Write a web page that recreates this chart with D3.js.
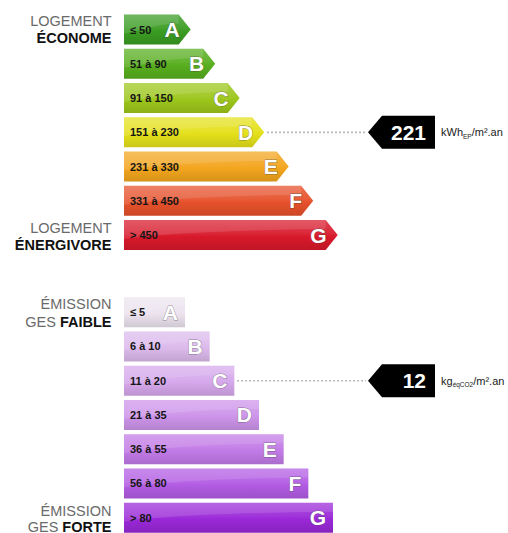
<!DOCTYPE html>
<html><head><meta charset="utf-8">
<script src="https://cdn.jsdelivr.net/npm/d3@7"></script>
<style>body{margin:0;background:#fff}svg{display:block}</style>
</head><body>
<script>
// ---- data ----
const classes = ["A","B","C","D","E","F","G"];
const energyRanges = ["≤ 50","51 à 90","91 à 150","151 à 230","231 à 330","331 à 450","> 450"];
const energyColors = ["#3a9c22","#58ae1f","#9cc61b","#e4e01a","#f3a51d","#e6512b","#d8192b"];
const gesRanges = ["≤ 5","6 à 10","11 à 20","21 à 35","36 à 55","56 à 80","> 80"];
const gesColors = ["#ece3ef","#dcbaec","#d6a8ec","#cd94ea","#c27ae7","#b25ce3","#9a28d8"];
const energyValue = 221, energyClass = "D", energyUnit = ["kWh","EP","/m².an"];
const gesValue = 12, gesClass = "C", gesUnit = ["kg","éqCO2","/m².an"];

const W = 508, H = 533;
const FONT = "'Liberation Sans', Arial, sans-serif";
const svg = d3.select("body").append("svg").attr("width", W).attr("height", H);
const defs = svg.append("defs");

function gradient(id, c) {
  const col = d3.color(c);
  const g = defs.append("linearGradient").attr("id", id).attr("x1", 0).attr("y1", 0).attr("x2", 0).attr("y2", 1);
  g.append("stop").attr("offset", "0%").attr("stop-color", d3.interpolateRgb(c, "#fff")(0.18));
  g.append("stop").attr("offset", "45%").attr("stop-color", d3.interpolateRgb(c, "#fff")(0.06));
  g.append("stop").attr("offset", "55%").attr("stop-color", c);
  g.append("stop").attr("offset", "100%").attr("stop-color", col.darker(0.35));
}

const rowH = 30;
function block(cfg) {
  const y = d3.scaleLinear().domain([0, 7]).range([cfg.top, cfg.top + 7 * 34.25]);
  const x = d3.scaleLinear().domain([0, 6]).range(cfg.rightRange);
  const x0 = 124;
  const g = svg.append("g");
  classes.forEach((k, i) => {
    const id = cfg.name + k;
    gradient(id, cfg.colors[i]);
    const t = y(i), b = t + rowH, r = x(i);
    let path;
    if (cfg.arrow) {
      const re = r - 12;
      path = `M${x0},${t}H${re}L${r},${t + rowH / 2}L${re},${b}H${x0}Z`;
    } else {
      path = `M${x0},${t}H${r}V${b}H${x0}Z`;
    }
    g.append("path").attr("d", path).attr("fill", `url(#${id})`);
    const hr = cfg.arrow ? r - 12 : r;
    g.append("path")
      .attr("d", `M${x0},${t}H${hr}L${hr},${t + 9}C${(x0 + hr) / 2},${t + 10} ${x0 + 30},${t + 14} ${x0},${t + 19}Z`)
      .attr("fill", "#fff").attr("opacity", 0.12);
    g.append("text").attr("x", 130).attr("y", t + rowH / 2 + 4)
      .attr("font-family", FONT).attr("font-weight", "bold")
      .attr("font-size", 11).attr("fill", "#151515").text(cfg.ranges[i]);
    g.append("text").attr("x", (cfg.arrow ? r - 11 : r - 7)).attr("y", t + rowH / 2 + 7.5)
      .attr("text-anchor", "end")
      .attr("font-family", FONT).attr("font-weight", "bold")
      .attr("font-size", 21).attr("fill", "#fff")
      .attr("stroke", "rgba(60,60,60,0.55)").attr("stroke-width", 0.9).attr("paint-order", "stroke")
      .text(k);
  });
  const ci = classes.indexOf(cfg.valueClass);
  const mid = y(ci) + rowH / 2;
  const tipEnd = x(ci) + 3;
  const mx = 368, mr = 435, mh = 33;
  g.append("line").attr("x1", tipEnd).attr("x2", mx - 2).attr("y1", mid).attr("y2", mid)
    .attr("stroke", "#a8a8a8").attr("stroke-width", 1.6).attr("stroke-dasharray", "1.6,2.4");
  g.append("path").attr("d", `M${mx},${mid}L${mx + 14},${mid - mh / 2}H${mr}V${mid + mh / 2}H${mx + 14}Z`).attr("fill", "#000");
  g.append("text").attr("x", 426).attr("y", mid + 7.5).attr("text-anchor", "end")
    .attr("font-family", FONT).attr("font-weight", "bold")
    .attr("font-size", 21).attr("fill", "#fff").text(cfg.value);
  const u = g.append("text").attr("x", 441).attr("y", mid + 4)
    .attr("font-family", FONT).attr("font-size", 11).attr("fill", "#222");
  u.append("tspan").text(cfg.unit[0]);
  u.append("tspan").attr("font-size", 6.5).attr("dy", 2.5).text(cfg.unit[1]);
  u.append("tspan").attr("dy", -2.5).text(cfg.unit[2]);
}

block({name: "e", top: 14.6, rightRange: [190.7, 337.7], colors: energyColors, ranges: energyRanges, arrow: true,
  valueClass: energyClass, value: energyValue, unit: energyUnit});
block({name: "g", top: 297.2, rightRange: [185, 333], colors: gesColors, ranges: gesRanges, arrow: false,
  valueClass: gesClass, value: gesValue, unit: gesUnit});

const labels = [
  {y: 26, parts: [["LOGEMENT", false]]},
  {y: 43, parts: [["ÉCONOME", true]]},
  {y: 233, parts: [["LOGEMENT", false]]},
  {y: 250, parts: [["ÉNERGIVORE", true]]},
  {y: 308.5, parts: [["ÉMISSION", false]]},
  {y: 326.5, parts: [["GES ", false], ["FAIBLE", true]]},
  {y: 516, parts: [["ÉMISSION", false]]},
  {y: 531.5, parts: [["GES ", false], ["FORTE", true]]}
];
labels.forEach(l => {
  const t = svg.append("text").attr("x", 111.5).attr("y", l.y).attr("text-anchor", "end")
    .attr("font-family", FONT).attr("font-size", 14.5);
  l.parts.forEach(p => t.append("tspan").attr("fill", p[1] ? "#111" : "#6a6a6a")
    .attr("font-weight", p[1] ? "bold" : "normal").text(p[0]));
});
</script>
</body></html>
